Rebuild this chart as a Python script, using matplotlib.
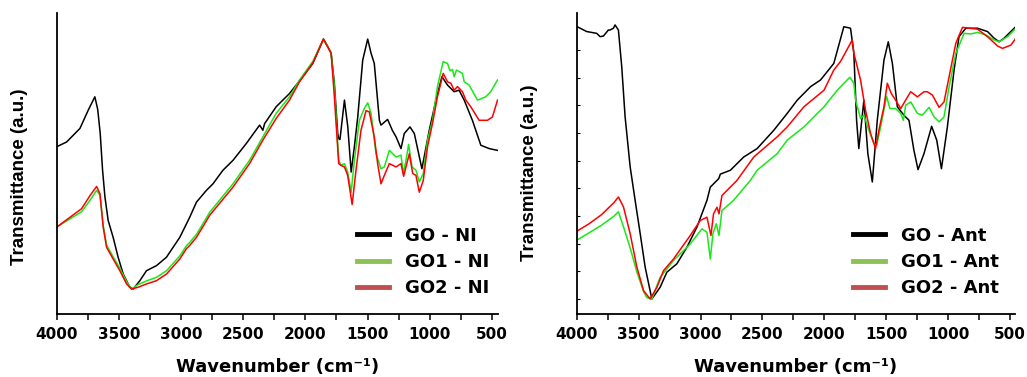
import matplotlib
matplotlib.use("Agg")
import matplotlib.pyplot as plt
from matplotlib.lines import Line2D
import numpy as np

# ---------------- Left panel (NI) ----------------
go_ni_w = [4000, 3920, 3813, 3746, 3693, 3670, 3650, 3631, 3612, 3586, 3546, 3506, 3465, 3412, 3385,
           3331, 3278, 3197, 3117, 3010, 2930, 2876, 2796, 2743, 2663, 2582, 2475, 2368, 2342, 2328,
           2235, 2128, 2021, 1940, 1855, 1820, 1793, 1767, 1740, 1732, 1722, 1686, 1659, 1632, 1605,
           1579, 1539, 1499, 1472, 1446, 1405, 1392, 1339, 1300, 1271, 1231, 1205, 1159, 1124, 1063,
           1004, 950, 902, 857, 804, 764, 723, 657, 589, 522, 455]
go_ni_t = [55.6, 57.2, 61.7, 67.8, 72.2, 68.0, 60.0, 47.8, 38.9, 31.1, 25.5, 18.9, 13.3, 8.9, 8.3,
           11.1, 14.4, 16.1, 18.9, 25.5, 32.2, 37.2, 41.1, 43.3, 47.8, 51.1, 56.7, 62.8, 61.1, 63.3,
           68.9, 73.3, 78.9, 83.3, 91.4, 88.9, 86.7, 76.7, 60.0, 58.3, 58.0, 71.1, 62.2, 47.2, 56.0,
           65.5, 84.4, 91.4, 86.7, 83.3, 64.4, 62.8, 64.7, 61.0, 58.9, 55.0, 60.0, 62.2, 60.0, 48.3,
           61.1, 71.1, 78.9, 76.1, 73.9, 74.4, 71.1, 64.4, 56.1, 55.0, 54.4]

go1_ni_w = [4000, 3800, 3732, 3679, 3652, 3626, 3599, 3546, 3492, 3438, 3398, 3345, 3278, 3197, 3117,
            3010, 2957, 2930, 2876, 2810, 2770, 2582, 2449, 2342, 2235, 2128, 2047, 1940, 1855, 1793,
            1767, 1732, 1713, 1686, 1660, 1632, 1606, 1566, 1526, 1499, 1472, 1432, 1392, 1365, 1325,
            1271, 1231, 1212, 1191, 1170, 1143, 1111, 1084, 1052, 1018, 978, 938, 892, 857, 838,
            817, 804, 785, 737, 723, 683, 616, 550, 510, 455]
go1_ni_t = [28.9, 34.0, 37.8, 41.1, 39.5, 29.5, 23.0, 19.0, 15.2, 10.8, 8.3, 9.8, 11.0, 12.2, 14.4,
            19.3, 22.7, 23.8, 26.5, 31.0, 33.8, 43.3, 51.1, 58.9, 66.7, 72.2, 77.8, 84.0, 91.4, 86.7,
            75.6, 51.1, 49.4, 50.0, 47.2, 40.5, 51.1, 64.4, 68.3, 70.2, 66.7, 53.3, 48.3, 48.9, 54.4,
            52.2, 52.8, 46.7, 51.1, 56.4, 48.9, 47.8, 43.9, 46.7, 57.8, 64.4, 75.6, 83.9, 83.3, 80.9,
            81.3, 78.9, 81.1, 80.0, 77.2, 76.1, 71.1, 72.2, 73.9, 77.8]

go2_ni_w = [4000, 3800, 3732, 3679, 3652, 3626, 3599, 3546, 3492, 3438, 3398, 3345, 3278, 3197, 3117,
            3010, 2957, 2930, 2876, 2810, 2770, 2582, 2449, 2342, 2235, 2128, 2047, 1940, 1855, 1793,
            1767, 1732, 1713, 1686, 1660, 1624, 1593, 1553, 1512, 1486, 1446, 1419, 1392, 1365, 1325,
            1271, 1231, 1210, 1191, 1164, 1137, 1111, 1084, 1052, 1018, 978, 938, 892, 857, 830,
            804, 777, 737, 710, 670, 603, 536, 496, 455]
go2_ni_t = [28.9, 35.0, 39.4, 42.4, 40.0, 28.9, 22.2, 18.3, 14.4, 10.0, 8.3, 8.9, 10.0, 11.1, 13.3,
            18.3, 21.7, 22.8, 25.5, 30.0, 32.8, 42.2, 50.0, 57.8, 65.0, 71.1, 77.2, 83.5, 91.4, 86.7,
            72.2, 50.0, 49.4, 48.9, 46.1, 36.4, 47.8, 61.1, 67.6, 67.2, 58.9, 50.0, 43.3, 46.1, 50.0,
            48.9, 50.0, 45.8, 48.9, 53.3, 46.7, 46.1, 40.5, 44.4, 55.6, 63.3, 72.2, 80.0, 77.2, 76.7,
            74.4, 75.6, 73.9, 71.1, 68.9, 64.4, 64.4, 65.5, 71.1]

# ---------------- Right panel (Ant) ----------------
go_ant_w = [4000, 3919, 3838, 3811, 3784, 3744, 3731, 3703, 3690, 3663, 3636, 3609, 3568, 3528, 3487,
            3447, 3393, 3326, 3272, 3191, 3110, 3029, 2948, 2921, 2853, 2840, 2759, 2651, 2543, 2408,
            2300, 2219, 2111, 2031, 1924, 1843, 1789, 1762, 1740, 1722, 1681, 1649, 1613, 1573, 1519,
            1484, 1451, 1411, 1358, 1317, 1277, 1244, 1196, 1134, 1093, 1055, 1007, 953, 913, 858,
            764, 683, 630, 589, 549, 468, 452]
go_ant_t = [95.6, 93.9, 93.3, 92.2, 92.4, 94.4, 94.4, 95.0, 96.1, 94.4, 82.2, 65.6, 48.9, 37.8, 26.7,
            15.6, 5.0, 8.9, 13.9, 16.7, 22.2, 28.9, 37.8, 42.2, 45.0, 46.5, 47.8, 52.2, 55.0, 61.1,
            66.7, 71.1, 75.6, 77.8, 83.3, 95.5, 95.0, 86.7, 64.4, 55.0, 71.1, 53.3, 43.9, 64.4, 84.4,
            90.5, 83.3, 68.9, 66.1, 64.4, 54.4, 48.0, 53.3, 62.4, 57.8, 48.3, 62.2, 81.1, 92.2, 95.0,
            95.0, 93.9, 91.7, 90.5, 91.7, 95.0, 95.6]

go1_ant_w = [4000, 3900, 3800, 3700, 3663, 3622, 3568, 3514, 3460, 3434, 3393, 3326, 3218, 3083, 2989,
             2948, 2921, 2900, 2873, 2851, 2827, 2733, 2598, 2543, 2381, 2300, 2165, 2003, 1896, 1795,
             1762, 1748, 1708, 1681, 1641, 1600, 1578, 1546, 1498, 1471, 1425, 1384, 1362, 1344, 1303,
             1249, 1209, 1155, 1114, 1074, 1034, 993, 939, 872, 818, 764, 697, 630, 589, 521, 454]
go1_ant_t = [24.5, 27.0, 29.5, 32.5, 34.0, 29.0, 22.0, 14.0, 7.5, 5.5, 5.0, 12.2, 17.8, 23.3, 28.3,
             27.2, 18.3, 26.7, 30.0, 26.1, 34.4, 37.8, 44.4, 47.8, 53.3, 57.8, 62.2, 68.9, 74.4, 78.7,
             76.7, 71.1, 65.0, 66.1, 61.1, 56.7, 56.1, 62.2, 72.4, 68.3, 68.3, 66.7, 64.4, 69.4, 70.5,
             66.7, 66.1, 68.7, 65.5, 63.9, 65.5, 75.5, 86.7, 93.3, 93.1, 93.6, 92.8, 91.1, 90.5, 92.2, 95.0]

go2_ant_w = [4000, 3900, 3800, 3700, 3663, 3622, 3568, 3514, 3460, 3407, 3352, 3299, 3218, 3083, 3002,
             2948, 2916, 2895, 2867, 2851, 2827, 2706, 2570, 2381, 2300, 2165, 2003, 1924, 1869, 1775,
             1762, 1708, 1668, 1627, 1587, 1560, 1519, 1492, 1460, 1425, 1384, 1344, 1303, 1249, 1196,
             1169, 1128, 1074, 1034, 993, 939, 885, 831, 764, 683, 602, 562, 494, 454]
go2_ant_t = [27.5, 30.0, 33.0, 37.0, 38.9, 35.6, 26.7, 15.6, 7.8, 5.0, 8.9, 14.4, 18.3, 26.1, 31.1,
             32.2, 26.1, 33.3, 35.5, 33.3, 39.4, 44.4, 52.2, 58.9, 62.2, 68.9, 74.4, 81.1, 84.0, 91.1,
             86.7, 77.8, 67.8, 60.0, 55.0, 61.1, 68.9, 76.7, 73.3, 71.1, 68.3, 71.1, 73.9, 72.2, 73.9,
             73.9, 72.8, 68.7, 70.5, 78.9, 90.0, 95.3, 95.0, 94.7, 92.2, 89.1, 88.3, 89.4, 91.7]

labels_ni = ["GO - NI", "GO1 - NI", "GO2 - NI"]
labels_ant = ["GO - Ant", "GO1 - Ant", "GO2 - Ant"]
tick_values = [4000, 3500, 3000, 2500, 2000, 1500, 1000, 500]

line_colors = ["#000000", "#18e818", "#ff0000"]
legend_colors = ["#000000", "#8dc153", "#c0504d"]

fig = plt.figure(figsize=(10.27, 3.77), dpi=100)
axL = fig.add_axes([0.0552, 0.167, 0.4296, 0.798])
axR = fig.add_axes([0.5615, 0.167, 0.4267, 0.798])

panels = [
    (axL, [(go_ni_w, go_ni_t), (go1_ni_w, go1_ni_t), (go2_ni_w, go2_ni_t)], labels_ni, 452,
     (-0.066, 0.457), False, (0.68, 0.29)),
    (axR, [(go_ant_w, go_ant_t), (go1_ant_w, go1_ant_t), (go2_ant_w, go2_ant_t)], labels_ant, 462,
     (-0.089, 0.468), True, (0.63, 0.29)),
]

for ax, series, labels, xmin, lab_xy, yticks, leg_xy in panels:
    for (w, t), c in zip(series, line_colors):
        ax.plot(w, t, color=c, lw=1.1, solid_joinstyle="round")
    ax.set_xlim(4000, xmin)
    ax.set_ylim(0, 100)
    for s in ["top", "right"]:
        ax.spines[s].set_visible(False)
    for s in ["left", "bottom"]:
        ax.spines[s].set_linewidth(1.3)
    ax.set_xticks(tick_values)
    ax.set_xticks(np.arange(3750, 450, -500), minor=True)
    ax.tick_params(axis="x", which="both", direction="out", length=4, width=1.1, pad=5)
    ax.set_xticklabels([str(v) for v in tick_values], fontsize=11, fontweight="bold",
                       family="DejaVu Sans")
    if yticks:
        ax.set_yticks(np.arange(5, 90, 9.2))
        ax.tick_params(axis="y", direction="in", length=2, width=0.8, labelleft=False)
    else:
        ax.set_yticks([])
    ax.set_xlabel("Wavenumber (cm⁻¹)", fontsize=13, fontweight="bold", family="DejaVu Sans",
                  labelpad=12)
    ax.set_ylabel("Transmittance (a.u.)", fontsize=13.5, fontweight="bold", family="Liberation Sans")
    ax.yaxis.set_label_coords(*lab_xy)
    handles = [Line2D([0], [0], color=c, lw=3.5) for c in legend_colors]
    ax.legend(handles, labels, loc="upper left", bbox_to_anchor=leg_xy, frameon=False,
              borderpad=0, borderaxespad=0,
              prop={"family": "DejaVu Sans", "weight": "bold", "size": 13}, handlelength=1.8,
              handletextpad=0.9, labelspacing=0.45)

fig.savefig("out.png", dpi=100)
